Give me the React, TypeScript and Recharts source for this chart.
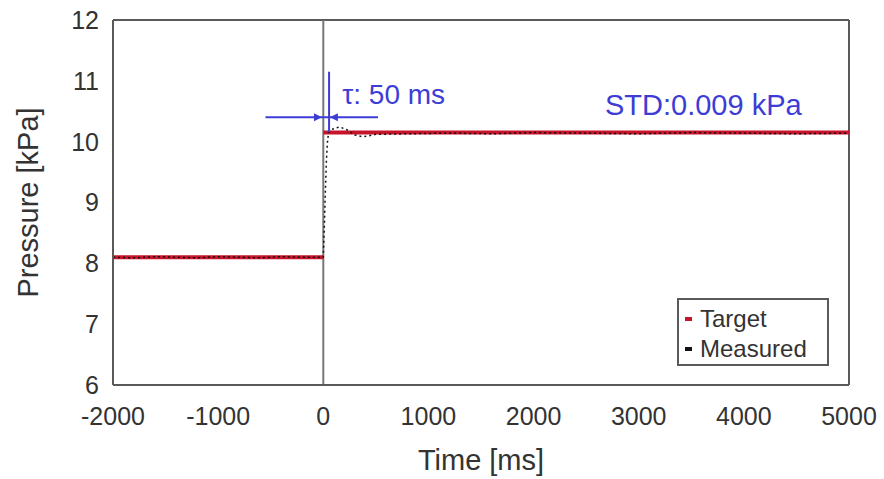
import React from 'react'
import { LineChart, Line, XAxis, YAxis, ReferenceLine, ReferenceDot, Legend } from 'recharts'

// target pressure steps (kPa)
const targetBefore = [
  { t: -2000, p: 8.1 },
  { t: 0, p: 8.1 },
]
const targetAfter = [
  { t: 0, p: 10.15 },
  { t: 5000, p: 10.15 },
]

const measured = [
  { t: -2000, p: 8.1 }, { t: -1800, p: 8.09 }, { t: -1600, p: 8.11 }, { t: -1400, p: 8.1 },
  { t: -1200, p: 8.09 }, { t: -1000, p: 8.11 }, { t: -800, p: 8.1 }, { t: -600, p: 8.09 },
  { t: -400, p: 8.11 }, { t: -200, p: 8.1 }, { t: 0, p: 8.1 },
  { t: 10, p: 8.6 }, { t: 20, p: 9.2 }, { t: 30, p: 9.7 }, { t: 40, p: 10.0 }, { t: 50, p: 10.15 },
  { t: 100, p: 10.22 }, { t: 160, p: 10.24 }, { t: 220, p: 10.2 }, { t: 300, p: 10.11 },
  { t: 380, p: 10.08 }, { t: 500, p: 10.12 }, { t: 800, p: 10.13 }, { t: 1200, p: 10.14 },
  { t: 1600, p: 10.13 }, { t: 2000, p: 10.15 }, { t: 2500, p: 10.14 }, { t: 3000, p: 10.13 },
  { t: 3500, p: 10.15 }, { t: 4000, p: 10.14 }, { t: 4500, p: 10.13 }, { t: 5000, p: 10.14 },
]

const xTicks = [-2000, -1000, 0, 1000, 2000, 3000, 4000, 5000]
const yTicks = [6, 7, 8, 9, 10, 11, 12]
const legendOrder = ['Target', 'Measured']

const BLUE = '#3d3dd6'
const FRAME = '#5a5a5a'
const FONT = "'Liberation Sans', Arial, sans-serif"

const arrowRight = (p: any) => (
  <polygon points={`${p.cx + 5},${p.cy} ${p.cx - 3},${p.cy - 4} ${p.cx - 3},${p.cy + 4}`} fill={BLUE} />
)
const arrowLeft = (p: any) => (
  <polygon points={`${p.cx - 5},${p.cy} ${p.cx + 3},${p.cy - 4} ${p.cx + 3},${p.cy + 4}`} fill={BLUE} />
)
const textAt = (label: string, size: number) => (p: any) => (
  <text x={p.cx} y={p.cy} fill={BLUE} fontSize={size} fontFamily={FONT}>{label}</text>
)

const renderLegend = (props: any) => {
  const items = (props.payload || [])
    .filter((it: any) => legendOrder.includes(it.value))
    .sort((a: any, b: any) => legendOrder.indexOf(a.value) - legendOrder.indexOf(b.value))
  return (
    <div style={{ border: `2px solid ${FRAME}`, width: 152, height: 68, padding: '4px 0 0 4px', boxSizing: 'border-box', background: '#fff' }}>
      {items.map((it: any) => (
        <div key={it.value} style={{ display: 'flex', alignItems: 'center', height: 30, fontSize: 24, color: '#333', fontFamily: FONT }}>
          <span style={{ display: 'inline-block', width: 7, height: 4, background: it.color, marginRight: 8, marginLeft: 2 }} />
          {it.value}
        </div>
      ))}
    </div>
  )
}

export default function App() {
  return (
    <div style={{ position: 'absolute', left: 0, top: 0, width: 884, height: 479, background: '#fff' }}>
      <LineChart width={884} height={479} margin={{ top: 20, right: 35, bottom: 0, left: 0 }}>
        <XAxis
          dataKey="t" type="number" domain={[-2000, 5000]} ticks={xTicks} height={94}
          tickLine={false} axisLine={{ stroke: FRAME, strokeWidth: 2 }} tickMargin={16}
          tick={{ fill: '#333', fontSize: 25, fontFamily: FONT }}
          label={{ value: 'Time [ms]', position: 'insideBottom', offset: 9, fill: '#333', fontSize: 29, fontFamily: FONT }}
        />
        <YAxis
          dataKey="p" type="number" domain={[6, 12]} ticks={yTicks} width={113}
          tickLine={false} axisLine={{ stroke: FRAME, strokeWidth: 2 }} tickMargin={8}
          tick={{ fill: '#333', fontSize: 25, fontFamily: FONT }}
          label={{ value: 'Pressure [kPa]', angle: -90, position: 'insideLeft', offset: 28, fill: '#333', fontSize: 29, fontFamily: FONT, style: { textAnchor: 'middle' } }}
        />
        <ReferenceLine y={12} stroke={FRAME} strokeWidth={2} />
        <ReferenceLine x={5000} stroke={FRAME} strokeWidth={2} />
        <ReferenceLine x={0} stroke="#777" strokeWidth={2} />

        <Line data={targetBefore} dataKey="p" name="Target" stroke="#c8142a" strokeWidth={4} dot={false} isAnimationActive={false} />
        <Line data={targetAfter} dataKey="p" name="Target2" legendType="none" stroke="#c8142a" strokeWidth={4} dot={false} isAnimationActive={false} />
        <Line data={measured} dataKey="p" name="Measured" stroke="#111" strokeWidth={1.5} strokeDasharray="2 3" dot={false} isAnimationActive={false} />

        {/* tau annotation */}
        <ReferenceLine segment={[{ x: -550, y: 10.4 }, { x: 520, y: 10.4 }]} stroke={BLUE} strokeWidth={2} />
        <ReferenceLine segment={[{ x: 55, y: 11.15 }, { x: 55, y: 10.16 }]} stroke={BLUE} strokeWidth={2} />
        <ReferenceDot x={-60} y={10.4} r={0} shape={arrowRight} />
        <ReferenceDot x={110} y={10.4} r={0} shape={arrowLeft} />
        <ReferenceDot x={180} y={10.62} r={0} shape={textAt('τ: 50 ms', 28)} />
        <ReferenceDot x={2679} y={10.44} r={0} shape={textAt('STD:0.009 kPa', 29)} />

        <Legend
          layout="vertical" align="center" verticalAlign="middle" content={renderLegend}
          wrapperStyle={{ position: 'absolute', left: 677, top: 298, width: 156, height: 72 }}
        />
      </LineChart>
    </div>
  )
}
